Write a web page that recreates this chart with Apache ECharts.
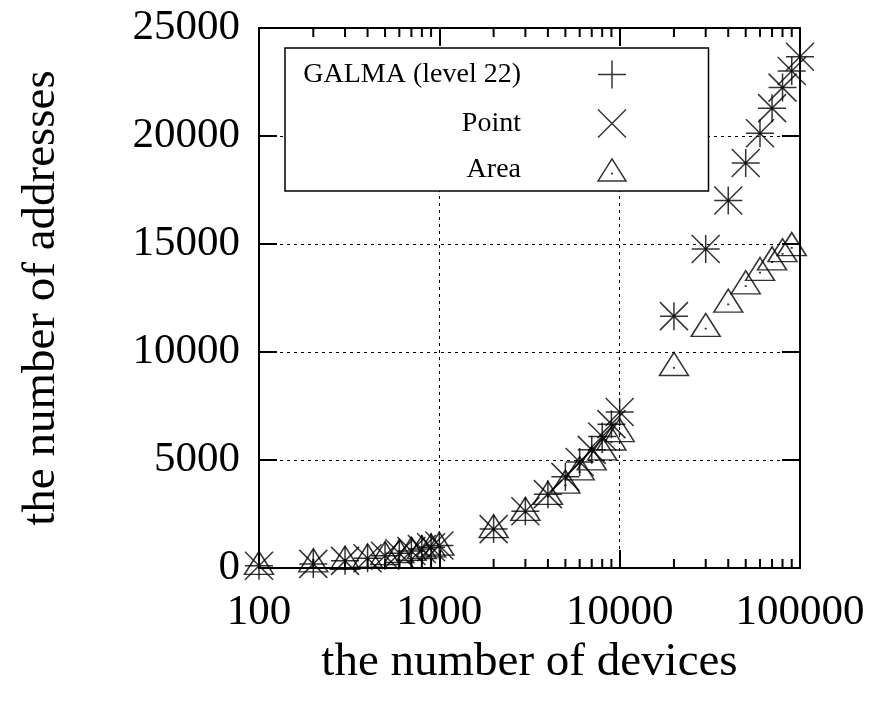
<!DOCTYPE html>
<html>
<head>
<meta charset="utf-8">
<title>Addresses vs devices</title>
<script src="https://cdn.jsdelivr.net/npm/echarts@6/dist/echarts.min.js"></script>
<style>
  html, body { margin: 0; padding: 0; background: #fff; }
  #chart { width: 870px; height: 701px; }
</style>
</head>
<body>
<div id="chart"></div>
<script>
// Number of devices (x, log scale)
const devices = [
  100, 200, 300, 400, 500, 600, 700, 800, 900, 1000,
  2000, 3000, 4000, 5000, 6000, 7000, 8000, 9000, 10000,
  20000, 30000, 40000, 50000, 60000, 70000, 80000, 90000, 100000
];

// Number of addresses per method
const galmaAddr = [
  100, 190, 330, 450, 570, 680, 790, 880, 960, 1040,
  1800, 2630, 3420, 4220, 4910, 5470, 6090, 6660, 7220,
  11660, 14770, 17010, 18750, 20130, 21290, 22240, 23010, 23670
];
const pointAddr = [
  100, 190, 330, 450, 570, 680, 790, 880, 960, 1040,
  1800, 2630, 3420, 4220, 4910, 5470, 6090, 6660, 7220,
  11660, 14770, 17010, 18750, 20130, 21290, 22240, 23010, 23670
];
const areaAddr = [
  60, 180, 300, 400, 510, 610, 710, 790, 870, 950,
  1760, 2560, 3300, 3820, 4440, 4900, 5360, 5820, 6210,
  9270, 11080, 12200, 13050, 13670, 14160, 14540, 14820, null
];

const seriesNames = ['GALMA (level 22)', 'Point', 'Area'];

// Axis ranges and tick values
const xMin = 100, xMax = 100000;
const yMin = 0, yMax = 25000, yStep = 5000;
const xMinorTicks = [
  200, 300, 400, 500, 600, 700, 800, 900,
  2000, 3000, 4000, 5000, 6000, 7000, 8000, 9000,
  20000, 30000, 40000, 50000, 60000, 70000, 80000, 90000
];

const FONT = '"Liberation Serif", "DejaVu Serif", serif';

// Stroked point glyphs
const PLUS = 'path://M14,0L14,28M0,14L28,14';
const CROSS = 'path://M0,0L28,28M28,0L0,28';
const TRIANGLE = 'path://M0,23L14.5,0L29,23ZM14.3,15.1L14.7,15.1L14.7,15.5L14.3,15.5Z';

const pairs = ys => devices.map((d, i) => [d, ys[i]]);

const strokeStyle = { color: 'none', borderColor: '#000', borderWidth: 1.5 };
const plain = v => String(v);

const axisCommon = {
  axisLine: { show: true, onZero: false, lineStyle: { color: '#000', width: 2 } },
  axisTick: { show: true, inside: true, length: 18, lineStyle: { color: '#000', width: 2 } },
  minorTick: { show: false },
  splitLine: { show: false }
};

const chart = echarts.init(document.getElementById('chart'), null, { renderer: 'canvas' });

chart.setOption({
  backgroundColor: '#fff',
  animation: false,
  grid: { left: 259, right: 70, top: 28, bottom: 133, containLabel: false, outerBoundsMode: 'none' },
  legend: {
    orient: 'vertical',
    left: 285,
    top: 48,
    align: 'right',
    itemWidth: 28,
    itemHeight: 28,
    itemGap: 16,
    padding: [10, 80, 7, 16],
    backgroundColor: '#fff',
    borderColor: '#000',
    borderWidth: 1.5,
    borderRadius: 0,
    selectedMode: false,
    symbolKeepAspect: true,
    itemStyle: { color: 'none', borderColor: '#000', borderWidth: 1.5 },
    formatter: name => '{t|' + name + '}',
    textStyle: {
      color: '#000',
      fontFamily: FONT,
      fontSize: 28,
      lineHeight: 28,
      rich: {
        t: { width: 220, align: 'right', padding: [0, 72, 0, 0], lineHeight: 28, fontFamily: FONT, fontSize: 28, color: '#000' }
      }
    },
    data: [
      { name: seriesNames[0], icon: PLUS },
      { name: seriesNames[1], icon: CROSS },
      { name: seriesNames[2], icon: TRIANGLE }
    ]
  },
  xAxis: [
    Object.assign({}, axisCommon, {
      type: 'log',
      logBase: 10,
      min: xMin,
      max: xMax,
      position: 'bottom',
      name: 'the number of devices',
      nameLocation: 'middle',
      nameGap: 60,
      nameTextStyle: { color: '#000', fontFamily: FONT, fontSize: 47 },
      axisLabel: { color: '#000', fontFamily: FONT, fontSize: 43, margin: 23, formatter: plain },
      splitLine: { show: true, lineStyle: { color: '#000', width: 1, type: [3, 4] } }
    }),
    Object.assign({}, axisCommon, {
      type: 'log',
      logBase: 10,
      min: xMin,
      max: xMax,
      position: 'top',
      axisLabel: { show: false }
    })
  ],
  yAxis: [
    Object.assign({}, axisCommon, {
      type: 'value',
      min: yMin,
      max: yMax,
      interval: yStep,
      position: 'left',
      name: 'the number of addresses',
      nameLocation: 'middle',
      nameGap: 194,
      nameTextStyle: { color: '#000', fontFamily: FONT, fontSize: 47 },
      axisLabel: { color: '#000', fontFamily: FONT, fontSize: 43, margin: 19, padding: [6, 0, 0, 0], formatter: plain },
      splitLine: { show: true, lineStyle: { color: '#000', width: 1, type: [3, 4] } }
    }),
    Object.assign({}, axisCommon, {
      type: 'value',
      min: yMin,
      max: yMax,
      interval: yStep,
      position: 'right',
      axisLabel: { show: false }
    })
  ],
  series: [
    {
      // minor ticks of the log axis, bottom and top edges
      type: 'custom',
      silent: true,
      xAxisIndex: 0,
      yAxisIndex: 0,
      clip: false,
      data: xMinorTicks.map(v => [v, yMin]),
      renderItem: (params, api) => {
        const v = api.value(0);
        const b = api.coord([v, yMin]);
        const t = api.coord([v, yMax]);
        const st = { stroke: '#000', lineWidth: 2 };
        return {
          type: 'group',
          children: [
            { type: 'line', shape: { x1: b[0], y1: b[1], x2: b[0], y2: b[1] - 9 }, style: st },
            { type: 'line', shape: { x1: t[0], y1: t[1], x2: t[0], y2: t[1] + 9 }, style: st }
          ]
        };
      },
      z: 3
    },
    {
      name: seriesNames[2],
      type: 'scatter',
      data: pairs(areaAddr),
      symbol: TRIANGLE,
      symbolSize: [29, 23],
      symbolOffset: [0, -3.8],
      itemStyle: strokeStyle,
      clip: false,
      z: 4
    },
    {
      name: seriesNames[1],
      type: 'scatter',
      data: pairs(pointAddr),
      symbol: CROSS,
      symbolSize: 28,
      itemStyle: strokeStyle,
      clip: false,
      z: 5
    },
    {
      name: seriesNames[0],
      type: 'scatter',
      data: pairs(galmaAddr),
      symbol: PLUS,
      symbolSize: 28,
      itemStyle: strokeStyle,
      clip: false,
      z: 6
    }
  ]
});
</script>
</body>
</html>
